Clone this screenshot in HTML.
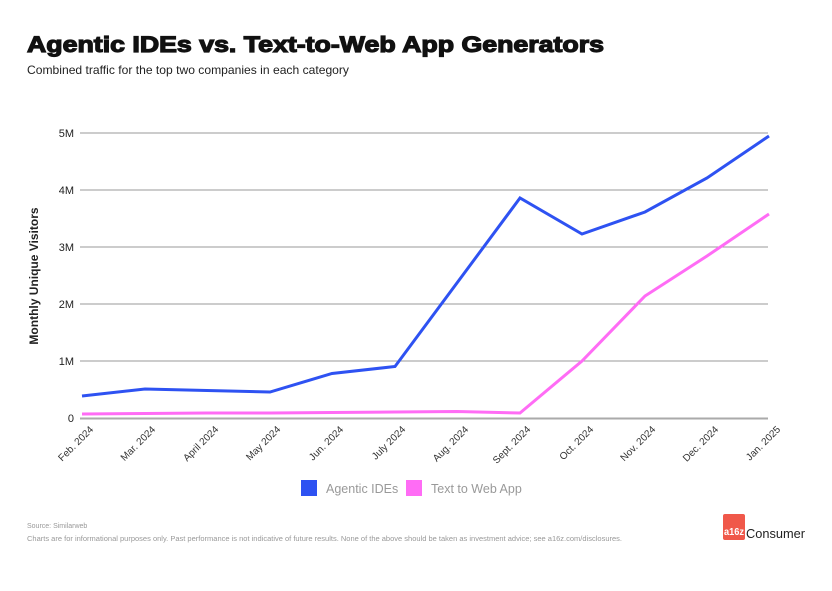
<!DOCTYPE html><html><head><style>body{margin:0;background:#fff;width:832px;height:586px;overflow:hidden;font-family:"Liberation Sans",sans-serif}</style></head><body>
<svg width="832" height="586" xmlns="http://www.w3.org/2000/svg" font-family="Liberation Sans, sans-serif">
<text x="27" y="52" font-size="22" font-weight="900" fill="#111" textLength="577" lengthAdjust="spacingAndGlyphs" stroke="#111" stroke-width="1.2">Agentic IDEs vs. Text-to-Web App Generators</text>
<text x="27" y="74" font-size="12" fill="#222" textLength="322" lengthAdjust="spacingAndGlyphs">Combined traffic for the top two companies in each category</text>
<g stroke="#999" stroke-width="1">
<line x1="80" x2="768" y1="133" y2="133"/><line x1="80" x2="768" y1="190" y2="190"/><line x1="80" x2="768" y1="247" y2="247"/><line x1="80" x2="768" y1="304" y2="304"/><line x1="80" x2="768" y1="361" y2="361"/></g>
<line x1="80" x2="768" y1="418.5" y2="418.5" stroke="#aaa" stroke-width="2"/>
<g font-size="11" fill="#222" text-anchor="end">
<text x="74" y="137">5M</text><text x="74" y="194">4M</text><text x="74" y="251">3M</text><text x="74" y="308">2M</text><text x="74" y="365">1M</text><text x="74" y="422">0</text></g>
<text transform="translate(38,276) rotate(-90)" font-size="12" font-weight="bold" fill="#222" text-anchor="middle">Monthly Unique Visitors</text>
<g font-size="10" fill="#333" text-anchor="end">
<text transform="translate(94,430) rotate(-45)">Feb. 2024</text>
<text transform="translate(156,430) rotate(-45)">Mar. 2024</text>
<text transform="translate(219,430) rotate(-45)">April 2024</text>
<text transform="translate(281,430) rotate(-45)">May 2024</text>
<text transform="translate(344,430) rotate(-45)">Jun. 2024</text>
<text transform="translate(406,430) rotate(-45)">July 2024</text>
<text transform="translate(469,430) rotate(-45)">Aug. 2024</text>
<text transform="translate(531,430) rotate(-45)">Sept. 2024</text>
<text transform="translate(594,430) rotate(-45)">Oct. 2024</text>
<text transform="translate(656,430) rotate(-45)">Nov. 2024</text>
<text transform="translate(719,430) rotate(-45)">Dec. 2024</text>
<text transform="translate(781,430) rotate(-45)">Jan. 2025</text></g>
<polyline fill="none" stroke="#ff6cf5" stroke-width="3" points="82,414 145,413.5 207,413 270,413 332,412.5 395,412 457,411.5 520,413 582,361 645,296 707,256 769,214"/>
<polyline fill="none" stroke="#2e52f2" stroke-width="3" points="82,396 145,389 207,390.5 270,392 332,373.5 395,366.5 520,198 582,234 645,212 707,178 769,136"/>
<rect x="301" y="480" width="16" height="16" fill="#2e52f2"/>
<text x="326" y="493" font-size="12.5" fill="#999">Agentic IDEs</text>
<rect x="406" y="480" width="16" height="16" fill="#ff6cf5"/>
<text x="431" y="493" font-size="12.5" fill="#999">Text to Web App</text>
<text x="27" y="528" font-size="7" fill="#999">Source: Similarweb</text>
<text x="27" y="541" font-size="7" fill="#999" textLength="595" lengthAdjust="spacingAndGlyphs">Charts are for informational purposes only. Past performance is not indicative of future results. None of the above should be taken as investment advice; see a16z.com/disclosures.</text>
<rect x="723" y="514" width="22" height="26" rx="2" fill="#f0584a"/>
<text x="724" y="535" font-size="10" font-weight="bold" fill="#fff" textLength="20" lengthAdjust="spacingAndGlyphs">a16z</text>
<text x="746" y="538" font-size="13" fill="#222" textLength="59" lengthAdjust="spacingAndGlyphs">Consumer</text>
</svg></body></html>
